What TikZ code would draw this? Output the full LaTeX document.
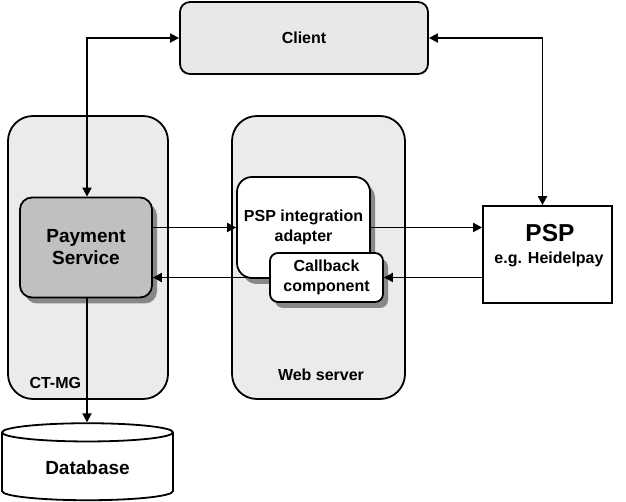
\documentclass[tikz,border=0pt]{standalone}
\usepackage{fontspec}
\setmainfont{Liberation Sans}
\usepackage{tikz}
\usetikzlibrary{
  arrows.meta,
  positioning,
  calc,
  shapes.geometric,
  shadows,
}
\definecolor{panel}{HTML}{EBEBEB}
\definecolor{clientbg}{HTML}{E8E8E8}
\definecolor{servicebg}{HTML}{C0C0C0}
\definecolor{shadowgray}{HTML}{888888}
\tikzset{
  >={Triangle[length=9pt,width=9pt]},
  every node/.append style={font=\bfseries\fontsize{16}{20}\selectfont},
  container/.style={
    draw, line width=1.8pt, fill=panel, rounded corners=25pt,
    minimum width=#1, minimum height=283pt,
  },
  boxed/.style={
    draw, line width=1.8pt, fill=white, align=center, inner sep=0pt,
  },
  shadowed/.style={
    drop shadow={shadow xshift=5pt, shadow yshift=-6pt, fill=shadowgray, opacity=1},
  },
  flow/.style={line width=1.8pt, ->},
  twoway/.style={line width=1.8pt, <->},
}

\begin{document}
\begin{tikzpicture}[x=1pt,y=-1pt]
  \useasboundingbox (0,0) rectangle (626,502);

  % Client on top
  \node[boxed, fill=clientbg, rounded corners=10pt,
    minimum width=248pt, minimum height=72pt] (Client) at (304,38) {Client};

  % Containers
  \node[container=160pt] (CTMG) at (88,257.5) {};
  \node[anchor=west] (CTMGLabel) at (26,383) {CT-MG};
  \node[container=173pt] (WebServer) at (318.5,257.5) {};
  \node (WebLabel) at (321,375) {Web server};

  % Payment service
  \node[boxed, shadowed, fill=servicebg, rounded corners=12pt,
    minimum width=132pt, minimum height=100pt,
    font=\bfseries\fontsize{19}{22}\selectfont] (Payment) at (86,247.5)
    {Payment\\Service};

  % Web server components
  \node[boxed, shadowed, rounded corners=15pt,
    minimum width=133pt, minimum height=101pt] (Adapter) at (303.5,227.5)
    {\raisebox{-3pt}{PSP integration}\\\raisebox{-3pt}{adapter}};
  \node[boxed, shadowed, rounded corners=8pt,
    minimum width=113pt, minimum height=49pt] (Callback) at (326.5,277.5)
    {Callback\\component};

  % Payment service provider
  \node[boxed, minimum width=129pt, minimum height=97pt] (PSP) at (547.5,254.5) {};
  \node[font=\bfseries\fontsize{24.5}{26}\selectfont] (PSPName) at (550,233) {PSP};
  \node (PSPExample) at (549,259) {e.g. Heidelpay};

  % Database
  \node[cylinder, shape border rotate=90, draw, line width=1.8pt, fill=white,
    aspect=0.2, minimum width=171pt, minimum height=77pt,
    font=\bfseries\fontsize{19}{22}\selectfont] (Database) at (87.5,468) {Database};

  % Connectors
  \draw[twoway] (Client.west) -| ([xshift=1pt]Payment.north);
  \draw[twoway] (Client.east) -| ([xshift=-5pt]PSP.north);
  \draw[flow] (Adapter.west -| Payment.east) -- (Adapter.west);
  \draw[flow] (Adapter.east) -- (Adapter.east -| PSP.west);
  \draw[flow] (Callback.east -| PSP.west) -- (Callback.east);
  \draw[flow] (Callback.west) -- (Callback.west -| Payment.east);
  \draw[flow] ([xshift=1pt]Payment.south) -- ([xshift=1pt]Payment.south |- Database.top);
\end{tikzpicture}
\end{document}
